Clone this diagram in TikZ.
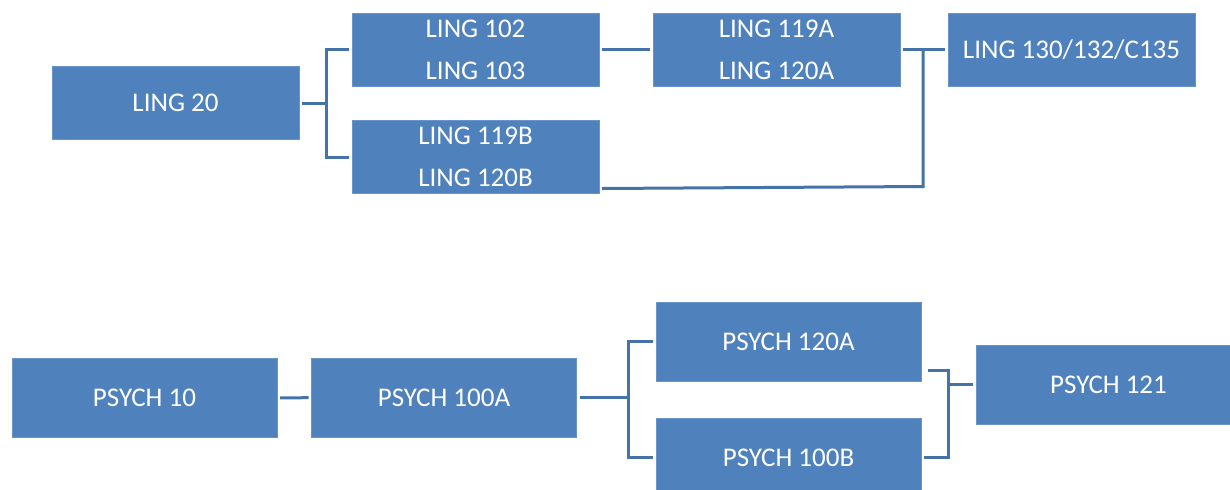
\documentclass[tikz,border=0pt]{standalone}
\usepackage{fontspec}
\setmainfont{Carlito}
\definecolor{boxblue}{RGB}{79,129,189}
\definecolor{lineblue}{RGB}{70,114,170}
\begin{document}
\begin{tikzpicture}[x=0.5pt,y=-0.5pt,
    course/.style={fill=boxblue,draw=boxblue!85!white,line width=0.5pt,text=white,inner sep=0pt,outer sep=1.5pt,
                   align=center,font=\fontsize{13.5}{21}\selectfont},
    ling/.style={course,minimum width=123.5pt,minimum height=36.5pt},
    psych/.style={course,minimum width=132.5pt,minimum height=39.5pt},
    link/.style={lineblue,line width=1.5pt}]
    \useasboundingbox (0,0) rectangle (1230,489);
    % LING ==================================================
    \node[ling] (L20)   at (175.5,103)  {LING 20};
    \node[ling] (L102)  at (475.5,49.5) {LING 102\\LING 103};
    \node[ling] (L119B) at (475.5,157)  {LING 119B\\LING 120B};
    \node[ling] (L119A) at (776.5,49.5) {LING 119A\\LING 120A};
    \node[ling] (L130)  at (1071.5,49.5) {LING 130/132/C135};
    \coordinate (fA) at (326,103);
    \coordinate (fB) at (923,49.5);
    \draw[link] (L20) -- (fA);
    \draw[link] (L102.west) -| (fA) |- (L119B.west);
    \draw[link] (L102) -- (L119A);
    \draw[link] (L119A) -- (L130);
    \draw[link] (fB) -- ++(0,137) -- ([shift={(0,-8)}]L119B.south east);
    % PSYCH =================================================
    \node[psych] (P10)   at (144.5,398)  {PSYCH 10};
    \node[psych] (P100A) at (444,397.5)  {PSYCH 100A};
    \node[psych] (P120A) at (788.5,341.5) {PSYCH 120A};
    \node[psych] (P100B) at (788.5,457.5) {PSYCH 100B};
    \node[psych] (P121)  at (1108.5,384.5) {PSYCH 121};
    \coordinate (fC) at (628,397.5);
    \coordinate (fD) at (948,370);
    \draw[link] (P10) -- (P100A);
    \draw[link] (P100A) -- (fC);
    \draw[link] (P120A.west) -| (fC) |- (P100B.west);
    \draw[link,shorten >=2pt] (P100B.east) -| (fD) -- (P120A.east |- fD);
    \draw[link] (P121.west) -- (P121.west -| fD);
\end{tikzpicture}
\end{document}
